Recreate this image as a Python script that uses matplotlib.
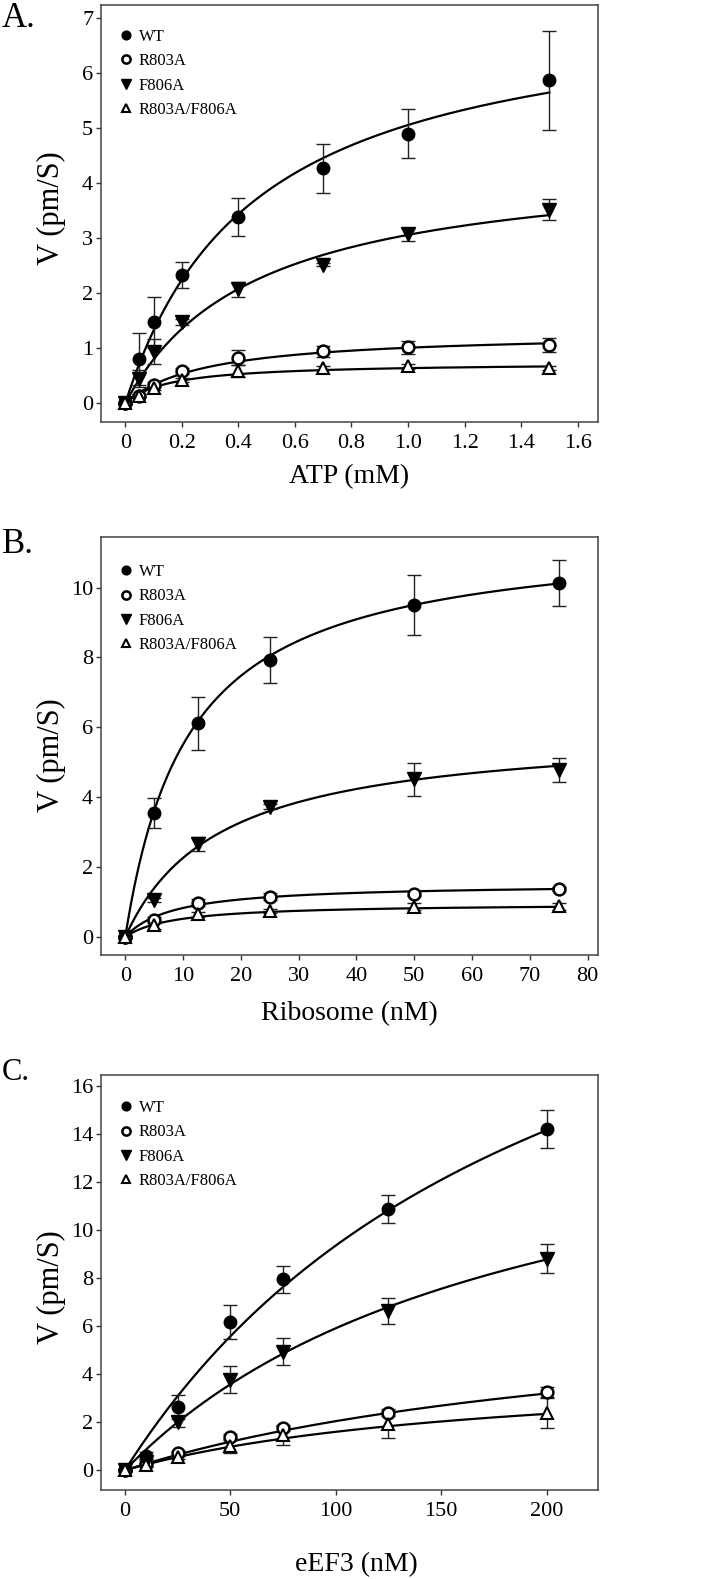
import numpy as np
import matplotlib
matplotlib.use('Agg')
import matplotlib.pyplot as plt

plt.rcParams['font.family'] = ['Liberation Serif', 'DejaVu Serif']

labels = ['WT', 'R803A', 'F806A', 'R803A/F806A']

# --- Panel A: ATP titration ---
atp = [0, 0.05, 0.1, 0.2, 0.4, 0.7, 1.0, 1.5]
wt_a = [0, 0.80, 1.47, 2.33, 3.39, 4.27, 4.90, 5.87]
wt_a_err = [0.03, 0.47, 0.47, 0.23, 0.35, 0.45, 0.45, 0.90]
r803_a = [0, 0.14, 0.34, 0.59, 0.83, 0.95, 1.02, 1.06]
r803_a_err = [0.02, 0.03, 0.05, 0.06, 0.13, 0.10, 0.12, 0.12]
f806_a = [0, 0.45, 0.94, 1.48, 2.07, 2.52, 3.07, 3.52]
f806_a_err = [0.02, 0.15, 0.22, 0.05, 0.14, 0.03, 0.12, 0.19]
dbl_a = [0, 0.14, 0.28, 0.42, 0.58, 0.64, 0.67, 0.64]
dbl_a_err = [0.02, 0.03, 0.04, 0.04, 0.11, 0.04, 0.04, 0.04]
# Michaelis-Menten fit (Vmax, Km)
fit_a = [(7.37, 0.457), (1.296, 0.283), (4.47, 0.46), (0.741, 0.159)]

# --- Panel B: Ribosome titration ---
ribo = [0, 5, 12.5, 25, 50, 75]
wt_b = [0, 3.55, 6.11, 7.93, 9.50, 10.14]
wt_b_err = [0.05, 0.44, 0.75, 0.65, 0.87, 0.66]
r803_b = [0, 0.49, 0.97, 1.15, 1.24, 1.37]
r803_b_err = [0.03, 0.08, 0.10, 0.10, 0.07, 0.07]
f806_b = [0, 1.05, 2.67, 3.72, 4.51, 4.78]
f806_b_err = [0.03, 0.05, 0.20, 0.07, 0.47, 0.35]
dbl_b = [0, 0.34, 0.64, 0.75, 0.86, 0.88]
dbl_b_err = [0.03, 0.12, 0.06, 0.06, 0.10, 0.10]
fit_b = [(11.61, 11.07), (1.524, 8.43), (5.97, 16.4), (0.957, 8.5)]

# --- Panel C: eEF3 titration ---
eef3 = [0, 10, 25, 50, 75, 125, 200]
wt_c = [0, 0.60, 2.62, 6.17, 7.95, 10.87, 14.21]
wt_c_err = [0.05, 0.15, 0.50, 0.71, 0.55, 0.58, 0.78]
r803_c = [0, 0.28, 0.71, 1.38, 1.76, 2.40, 3.27]
r803_c_err = [0.03, 0.10, 0.10, 0.12, 0.12, 0.15, 0.20]
f806_c = [0, 0.35, 2.02, 3.77, 4.94, 6.64, 8.81]
f806_c_err = [0.03, 0.10, 0.22, 0.57, 0.55, 0.55, 0.60]
dbl_c = [0, 0.22, 0.57, 1.00, 1.45, 1.91, 2.40]
dbl_c_err = [0.03, 0.08, 0.08, 0.30, 0.38, 0.55, 0.62]
fit_c = [(29.1, 211), (7.32, 257.7), (17.02, 187.8), (4.4, 174.5)]

W, H = 706, 1579
fig = plt.figure(figsize=(W / 100, H / 100), dpi=100)


def rect(l, t, r, b):
    return [l / W, 1 - b / H, (r - l) / W, (b - t) / H]


styles = [
    dict(marker='o', ms=9, mfc='black', mec='black', mew=1),
    dict(marker='o', ms=8.5, mfc='white', mec='black', mew=1.8),
    dict(marker='v', ms=9.5, mfc='black', mec='black', mew=1),
    dict(marker='^', ms=8.5, mfc='white', mec='black', mew=1.5),
]


def panel(box, x, ys, errs, fits, xmax, xlim, ylim, xticks, xticklabels, yticks,
          leg_dx, leg_dy):
    ax = fig.add_axes(rect(*box))
    xf = np.linspace(0, xmax, 300)
    for y, e, (vm, km), st, lab in zip(ys, errs, fits, styles, labels):
        ax.plot(xf, vm * xf / (km + xf), color='black', lw=1.6, zorder=2)
        ax.errorbar(x, y, yerr=e, fmt='none', ecolor='#222222', elinewidth=1,
                    capsize=4.8, capthick=1, zorder=3)
        ax.plot(x, y, linestyle='none', label=lab, zorder=4, **st)
    ax.set_xlim(*xlim)
    ax.set_ylim(*ylim)
    ax.set_xticks(xticks)
    ax.set_xticklabels(xticklabels)
    ax.set_yticks(yticks)
    ax.tick_params(direction='out', length=3.6, width=1, color='#333333',
                   labelsize=16)
    ax.tick_params(axis='x', pad=5)
    ax.tick_params(axis='y', pad=2)
    for s in ax.spines.values():
        s.set_color('#444444')
        s.set_linewidth(1.1)
    wpx = box[2] - box[0]
    hpx = box[3] - box[1]
    ax.legend(loc='upper left', bbox_to_anchor=(leg_dx / wpx, 1 - leg_dy / hpx),
              frameon=False, fontsize=12, markerscale=0.7, handlelength=0.6,
              handletextpad=0.48, labelspacing=0.5, borderpad=0, borderaxespad=0)
    return ax


panel((101, 5, 598, 422), atp, [wt_a, r803_a, f806_a, dbl_a],
      [wt_a_err, r803_a_err, f806_a_err, dbl_a_err], fit_a, 1.5,
      (-0.086, 1.672), (-0.34, 7.24), np.arange(0, 1.61, 0.2),
      ['0', '0.2', '0.4', '0.6', '0.8', '1.0', '1.2', '1.4', '1.6'],
      range(0, 8), 20, 24)

panel((101, 537, 598, 955), ribo, [wt_b, r803_b, f806_b, dbl_b],
      [wt_b_err, r803_b_err, f806_b_err, dbl_b_err], fit_b, 75,
      (-4.2, 81.8), (-0.52, 11.45), range(0, 81, 10),
      [str(v) for v in range(0, 81, 10)], range(0, 11, 2), 20, 27)

panel((101, 1075, 598, 1490), eef3, [wt_c, r803_c, f806_c, dbl_c],
      [wt_c_err, r803_c_err, f806_c_err, dbl_c_err], fit_c, 200,
      (-11.3, 224.4), (-0.82, 16.46), range(0, 201, 50),
      [str(v) for v in range(0, 201, 50)], range(0, 17, 2), 20, 25)

# axis titles
fig.text(349 / W, 1 - 483 / H, 'ATP (mM)', fontsize=20, ha='center', va='baseline')
fig.text(349 / W, 1 - 1020 / H, 'Ribosome (nM)', fontsize=20, ha='center', va='baseline')
fig.text(356 / W, 1 - 1571 / H, 'eEF3 (nM)', fontsize=20, ha='center', va='baseline')
for yc in (208, 755, 1287):
    fig.text(51 / W, 1 - yc / H, 'V (pm/S)', fontsize=22, rotation=90,
             ha='center', va='center')

# panel letters
fig.text(2 / W, 1 - 27 / H, 'A.', fontsize=25, va='baseline')
fig.text(2 / W, 1 - 553 / H, 'B.', fontsize=25, va='baseline')
fig.text(2 / W, 1 - 1080 / H, 'C.', fontsize=22, va='baseline')

fig.savefig('out.png', dpi=100)
